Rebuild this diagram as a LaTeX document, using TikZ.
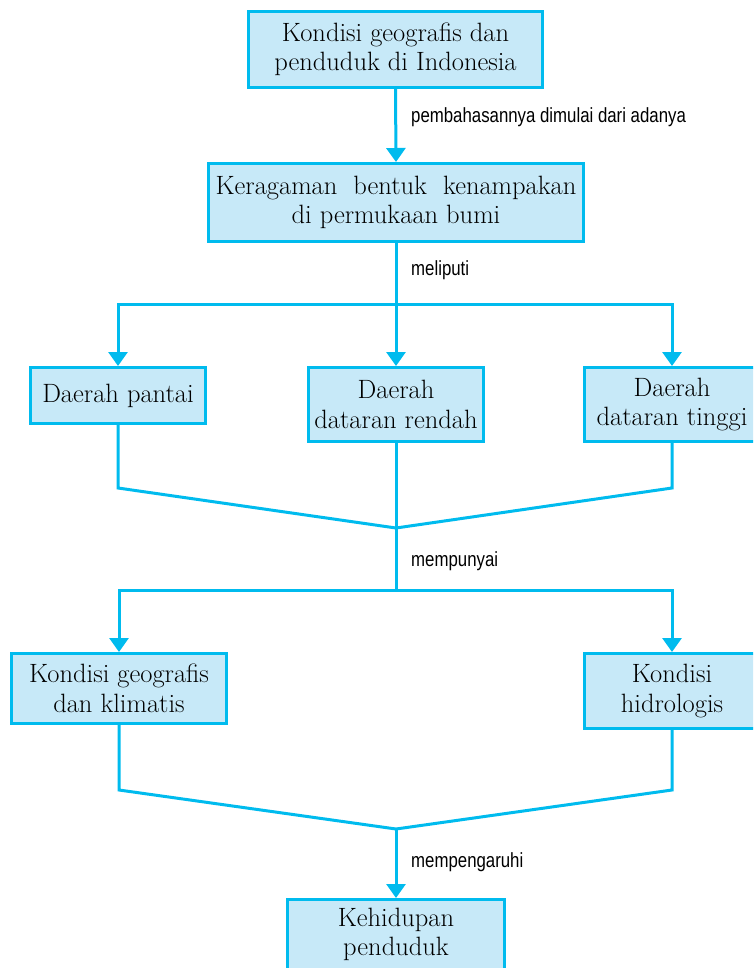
\documentclass[tikz,border=0pt]{standalone}
\usepackage{fontspec}
\newfontfamily\lblfont{Liberation Sans}[FakeStretch=0.82]
\usetikzlibrary{arrows.meta}
\definecolor{cyanline}{RGB}{0,187,238}
\definecolor{boxfill}{RGB}{199,233,248}
\begin{document}
\begin{tikzpicture}[x=1pt,y=-1pt,
  box/.style={draw=cyanline,fill=boxfill,line width=3pt,align=center,inner sep=0pt,
    font=\fontsize{26.5}{29.5}\selectfont},
  line/.style={draw=cyanline,line width=3pt},
  arr/.style={line,-{Triangle[width=19pt,length=14pt]}},
  lbl/.style={anchor=base west,inner sep=0pt,font=\lblfont\fontsize{20.5}{25}\selectfont}]
\useasboundingbox (0,0) rectangle (753,968);
\clip (0,0) rectangle (753,968);
% boxes
\node[box,minimum width=294pt,minimum height=76pt] (n1) at (395.5,49.5) {Kondisi geografis dan\\penduduk di Indonesia};
\node[box,minimum width=375pt,minimum height=78pt] (n2) at (396,202.5) {Keragaman\ \ bentuk\ \ kenampakan\\di permukaan bumi};
\node[box,minimum width=175pt,minimum height=56pt] (n3) at (118,395.5) {Daerah pantai};
\node[box,minimum width=175pt,minimum height=74pt] (n4) at (396,404.5) {Daerah\\dataran rendah};
\node[box,minimum width=175pt,minimum height=74pt] (n5) at (672,404.5) {Daerah\\dataran tinggi};
\node[box,minimum width=215pt,minimum height=70pt] (n6) at (119,688.5) {Kondisi geografis\\dan klimatis};
\node[box,minimum width=175pt,minimum height=75pt] (n7) at (672,691) {Kondisi\\hidrologis};
\node[box,minimum width=217pt,minimum height=70pt] (n8) at (396,934.5) {Kehidupan\\penduduk};
% junction coordinates
\coordinate (j1) at (396,304);
\coordinate (b1) at (396,488);
\coordinate (j2) at (396,528);
\coordinate (j3) at (396,590);
\coordinate (b2) at (396,790);
\coordinate (j4) at (396,829);
% connectors
\draw[arr] (n1.south) -- (n2.north);
\draw[arr] (n2.south) -- (n4.north);
\draw[arr] (j1) -| (n3.north);
\draw[arr] (j1) -| (n5.north);
\draw[line] (n3.south) -- (n3.south |- b1) -- (j2) -- (n5.south |- b1) -- (n5.south);
\draw[line] (n4.south) -- (j2) -- (j3);
\draw[arr] (j3) -| (n6.north);
\draw[arr] (j3) -| (n7.north);
\draw[line] (n6.south) -- (n6.south |- b2) -- (j4) -- (n7.south |- b2) -- (n7.south);
\draw[arr] (j4) -- (n8.north);
% labels
\node[lbl] (l1) at (411,123) {pembahasannya dimulai dari adanya};
\node[lbl] (l2) at (411,275) {meliputi};
\node[lbl] (l3) at (411,566) {mempunyai};
\node[lbl] (l4) at (411,867) {mempengaruhi};
\end{tikzpicture}
\end{document}
